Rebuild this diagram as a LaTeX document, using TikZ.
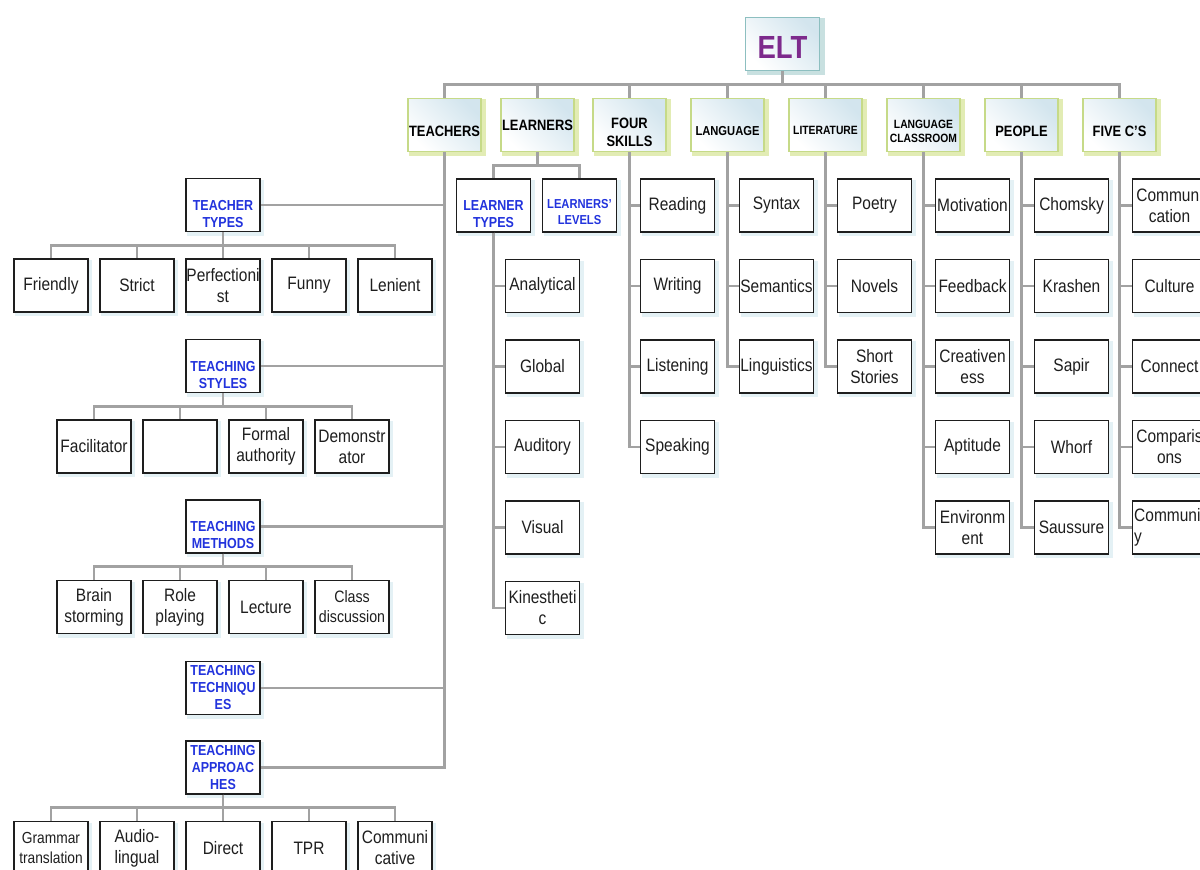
\documentclass[tikz,border=0pt]{standalone}
\usepackage{fontspec}
\setmainfont{Liberation Sans}[FakeStretch=0.86]
\usepackage{tikz}
\usetikzlibrary{positioning, calc, shadows}
\definecolor{linegray}{HTML}{A2A2A2}
\definecolor{catgreen}{HTML}{C6DA88}
\definecolor{catglow}{HTML}{E2ECB4}
\definecolor{catfill}{HTML}{D3E5EE}
\definecolor{eltteal}{HTML}{8DBFC0}
\definecolor{eltglow}{HTML}{C8E0E0}
\definecolor{eltpurple}{HTML}{7D2A8C}
\definecolor{subblue}{HTML}{2233DD}
\definecolor{glowblue}{HTML}{E4F1F5}
\definecolor{inkgray}{HTML}{1E1E1E}
% invisible strut that pushes a label down inside its box
\newcommand\capstrut[1]{\rule{0pt}{#1pt}}

\begin{document}
\begin{tikzpicture}[x=1pt, y=1pt, node distance=80.5pt,
    leaf/.style={draw=inkgray, line width=1.2pt, fill=white, text=inkgray,
      minimum width=74pt, minimum height=53pt, inner sep=0.5pt, align=center,
      font=\fontsize{18}{21}\selectfont,
      drop shadow={shadow xshift=2.5pt, shadow yshift=-2.5pt, fill=glowblue,
        draw=glowblue, line width=3pt, opacity=1}},
    sub/.style={leaf, text=subblue, font=\bfseries\fontsize{14.5}{17}\selectfont},
    cat/.style={draw=catgreen, line width=1.4pt, top color=catfill, bottom color=white,
      shading angle=-45, minimum width=73pt, minimum height=53pt, inner sep=0.5pt,
      align=center, font=\bfseries\fontsize{15}{18}\selectfont,
      drop shadow={shadow xshift=3pt, shadow yshift=-2pt, fill=catglow,
        draw=catglow, line width=4pt, opacity=1}},
    root/.style={draw=eltteal, line width=1.5pt, top color=catfill, bottom color=white,
      shading angle=-45, minimum width=74pt, minimum height=53pt, text=eltpurple,
      font=\bfseries\fontsize{32}{36}\selectfont,
      drop shadow={shadow xshift=3pt, shadow yshift=-2pt, fill=eltglow,
        draw=eltglow, line width=4pt, opacity=1}},
    link/.style={draw=linegray, line width=2.8pt},
    fork/.style={to path={|- ($(\tikztostart)!.5!(\tikztotarget)$) -| (\tikztotarget)}},
    elbow/.style={to path={|- (\tikztotarget)}}]
\useasboundingbox (0,0) rectangle (1200,-870);

% root and main branches
\node[root] (elt) at (782.5,-44) {\capstrut{28}ELT};
\node[cat] (skills) at (629.5,-125) {\capstrut{26}FOUR\\SKILLS};
\node[cat, node distance=92pt, left of=skills] (learn) {LEARNERS};
\node[cat, node distance=93pt, left of=learn] (teach) {\capstrut{23}TEACHERS};
\node[cat, node distance=98pt, right of=skills, font=\bfseries\fontsize{13}{15}\selectfont] (lang) {\capstrut{21}LANGUAGE};
\node[cat, node distance=98pt, right of=lang, font=\bfseries\fontsize{12}{13.5}\selectfont] (lit) {\capstrut{19}LITERATURE};
\node[cat, node distance=98pt, right of=lit, font=\bfseries\fontsize{12}{13.5}\selectfont] (class) {\capstrut{21}LANGUAGE\\CLASSROOM};
\node[cat, node distance=98pt, right of=class] (people) {\capstrut{23}PEOPLE};
\node[cat, node distance=98pt, right of=people] (fivec) {\capstrut{23}FIVE C’S};

% teachers
\node[sub] (ttypes) at (223,-205) {\capstrut{28}TEACHER\\TYPES};
\node[sub, node distance=161pt, below of=ttypes] (tstyles) {\capstrut{28}TEACHING\\STYLES};
\node[sub, node distance=160.5pt, below of=tstyles] (tmeth) {\capstrut{28}TEACHING\\METHODS};
\node[sub, node distance=161.5pt, below of=tmeth] (ttech) {TEACHING\\TECHNIQU\\ES};
\node[sub, node distance=79.5pt, below of=ttech] (tappr) {TEACHING\\APPROAC\\HES};

\node[leaf, below of=ttypes] (perf) {Perfectioni\\st};
\node[leaf, node distance=86pt, left of=perf] (strict) {Strict};
\node[leaf, node distance=86pt, left of=strict] (friend) {Friendly};
\node[leaf, node distance=86pt, right of=perf] (funny) {Funny};
\node[leaf, node distance=86pt, right of=funny] (lenient) {Lenient};

\node[leaf, below of=tstyles, xshift=-43pt] (blank) {};
\node[leaf, node distance=86pt, left of=blank] (facil) {Facilitator};
\node[leaf, node distance=86pt, right of=blank] (formal) {Formal\\authority};
\node[leaf, node distance=86pt, right of=formal] (demo) {Demonstr\\ator};

\node[leaf, below of=tmeth, xshift=-43pt] (role) {Role\\playing};
\node[leaf, node distance=86pt, left of=role] (brain) {Brain\\storming};
\node[leaf, node distance=86pt, right of=role] (lecture) {Lecture};
\node[leaf, node distance=86pt, right of=lecture, font=\fontsize{16.5}{20}\selectfont] (discuss) {Class\\discussion};

\node[leaf, below of=tappr] (direct) {Direct};
\node[leaf, node distance=86pt, left of=direct] (audio) {Audio-\\lingual};
\node[leaf, node distance=86pt, left of=audio, font=\fontsize{16}{20}\selectfont] (grammar) {Grammar\\translation};
\node[leaf, node distance=86pt, right of=direct] (tpr) {TPR};
\node[leaf, node distance=86pt, right of=tpr] (commv) {Communi\\cative};

% learners
\node[sub, below of=learn, xshift=-44pt] (ltypes) {\capstrut{28}LEARNER\\TYPES};
\node[sub, node distance=86pt, right of=ltypes, font=\bfseries\fontsize{13}{16}\selectfont] (llevels) {\capstrut{22}LEARNERS’\\LEVELS};
\node[leaf, below of=ltypes, xshift=49pt] (anal) {Analytical};
\node[leaf, below of=anal] (global) {Global};
\node[leaf, below of=global] (audit) {Auditory};
\node[leaf, below of=audit] (visual) {Visual};
\node[leaf, below of=visual] (kines) {Kinestheti\\c};

% four skills
\node[leaf, below of=skills, xshift=48pt] (read) {Reading};
\node[leaf, below of=read] (write) {Writing};
\node[leaf, below of=write] (listen) {Listening};
\node[leaf, below of=listen] (speak) {Speaking};

% language
\node[leaf, below of=lang, xshift=49pt] (syntax) {Syntax};
\node[leaf, below of=syntax] (sem) {Semantics};
\node[leaf, below of=sem] (ling) {Linguistics};

% literature
\node[leaf, below of=lit, xshift=49pt] (poetry) {Poetry};
\node[leaf, below of=poetry] (novels) {Novels};
\node[leaf, below of=novels] (stories) {Short\\Stories};

% language classroom
\node[leaf, below of=class, xshift=49pt] (motiv) {Motivation};
\node[leaf, below of=motiv] (feedb) {Feedback};
\node[leaf, below of=feedb] (creat) {Creativen\\ess};
\node[leaf, below of=creat] (aptit) {Aptitude};
\node[leaf, below of=aptit] (envir) {Environm\\ent};

% people
\node[leaf, below of=people, xshift=50pt] (chomsky) {Chomsky};
\node[leaf, below of=chomsky] (krashen) {Krashen};
\node[leaf, below of=krashen] (sapir) {Sapir};
\node[leaf, below of=sapir] (whorf) {Whorf};
\node[leaf, below of=whorf] (saussure) {Saussure};

% five c's
\node[leaf, below of=fivec, xshift=50pt] (commn) {Communi\\cation};
\node[leaf, below of=commn] (culture) {Culture};
\node[leaf, below of=culture] (connect) {Connect};
\node[leaf, below of=connect] (compar) {Comparis\\ons};
\node[leaf, below of=compar, align=left] (commty) {Communit\\y};

% connectors
\draw[link] (elt) edge[fork] (teach) edge[fork] (learn) edge[fork] (skills) edge[fork] (lang)
  edge[fork] (lit) edge[fork] (class) edge[fork] (people) edge[fork] (fivec);
\draw[link] (teach) edge[elbow] (ttypes) edge[elbow] (tstyles) edge[elbow] (tmeth)
  edge[elbow] (ttech) edge[elbow] (tappr);
\draw[link] (ttypes) edge[fork] (friend) edge[fork] (strict) edge[fork] (perf) edge[fork] (funny) edge[fork] (lenient);
\draw[link] (tstyles) edge[fork] (facil) edge[fork] (blank) edge[fork] (formal) edge[fork] (demo);
\draw[link] (tmeth) edge[fork] (brain) edge[fork] (role) edge[fork] (lecture) edge[fork] (discuss);
\draw[link] (tappr) edge[fork] (grammar) edge[fork] (audio) edge[fork] (direct) edge[fork] (tpr) edge[fork] (commv);
\draw[link] (learn) edge[fork] (ltypes) edge[fork] (llevels);
\draw[link] (ltypes) edge[elbow] (anal) edge[elbow] (global) edge[elbow] (audit) edge[elbow] (visual) edge[elbow] (kines);
\draw[link] (skills) edge[elbow] (read) edge[elbow] (write) edge[elbow] (listen) edge[elbow] (speak);
\draw[link] (lang) edge[elbow] (syntax) edge[elbow] (sem) edge[elbow] (ling);
\draw[link] (lit) edge[elbow] (poetry) edge[elbow] (novels) edge[elbow] (stories);
\draw[link] (class) edge[elbow] (motiv) edge[elbow] (feedb) edge[elbow] (creat) edge[elbow] (aptit) edge[elbow] (envir);
\draw[link] (people) edge[elbow] (chomsky) edge[elbow] (krashen) edge[elbow] (sapir) edge[elbow] (whorf) edge[elbow] (saussure);
\draw[link] (fivec) edge[elbow] (commn) edge[elbow] (culture) edge[elbow] (connect) edge[elbow] (compar) edge[elbow] (commty);

\end{tikzpicture}
\end{document}
